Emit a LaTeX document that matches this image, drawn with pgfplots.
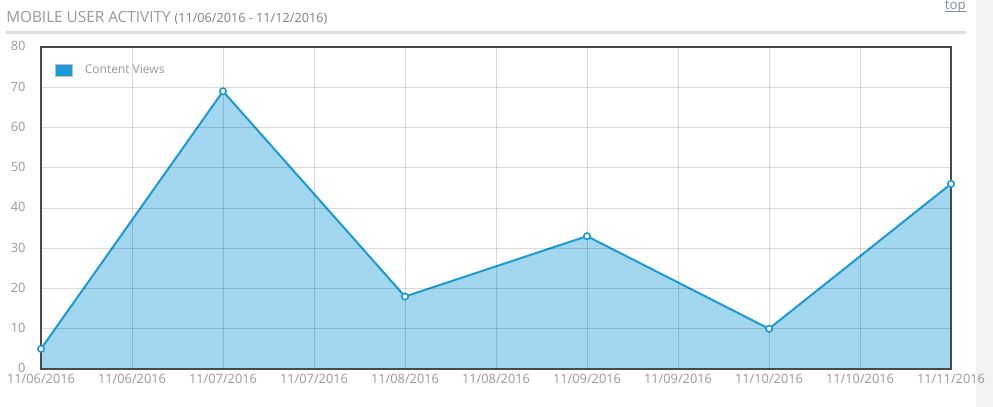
\documentclass[border=0pt]{standalone}
\usepackage{fontspec}
\setmainfont{Open Sans}
\usepackage{pgfplots}
\pgfplotsset{compat=1.18}
\definecolor{linec}{HTML}{1A9AD6}
\definecolor{areac}{HTML}{A3D7EF}
\definecolor{txtc}{HTML}{999999}
\definecolor{frame}{HTML}{4A4A4A}
\definecolor{strip}{HTML}{F3F3F3}
\definecolor{rule}{HTML}{E0E0E0}
\definecolor{linkc}{HTML}{828CA5}

\begin{document}
\begin{tikzpicture}
% canvas: 993x407 px, 1px = 0.75pt
\useasboundingbox (0,0) rectangle (744.75pt,305.25pt);
\fill[white] (0,0) rectangle (744.75pt,305.25pt);
\fill[strip] (732pt,0) rectangle (744.75pt,305.25pt);

% header
\node[anchor=base west, inner sep=0, text=txtc, font=\fontsize{11.5pt}{14pt}\selectfont]
  at (4.5pt,288.5pt) {MOBILE USER ACTIVITY {\fontsize{9.5pt}{10pt}\selectfont\color{gray} (11/06/2016 - 11/12/2016)}};
\fill[rule] (4.5pt,279.75pt) rectangle (724.5pt,281.75pt);
\node[anchor=base east, inner sep=0, text=linkc, font=\fontsize{10pt}{12pt}\selectfont]
  (top) at (724.5pt,298pt) {top};
\draw[linkc, line width=0.6pt] ([yshift=-1.6pt]top.base west) -- ([yshift=-1.6pt]top.base east);

\begin{axis}[
    at={(30.75pt,28.5pt)}, anchor=south west,
    scale only axis,
    width=682.5pt, height=241.5pt,
    xmin=0, xmax=10, ymin=0, ymax=80,
    xtick={0,...,10},
    xticklabels={11/06/2016,11/06/2016,11/07/2016,11/07/2016,11/08/2016,11/08/2016,11/09/2016,11/09/2016,11/10/2016,11/10/2016,11/11/2016},
    ytick={0,10,...,80},
    tick style={draw=none},
    grid=major,
    grid style={black, opacity=0.15, line width=0.6pt},
    axis line style={frame, line width=2pt},
    axis on top,
    ticklabel style={text=txtc, font=\fontsize{9.6pt}{11pt}\selectfont, inner sep=0.5pt},
    /pgf/number format/assume math mode=true,
    yticklabel style={xshift=-11pt, yshift=0.5pt},
    xticklabel style={yshift=-3.5pt},
    legend style={at={(0.011,0.962)}, anchor=north west, draw=none, fill=none,
        font=\fontsize{9pt}{11pt}\selectfont, text=txtc},
    legend cell align=left,
]
\addplot[fill=areac, draw=none,
    legend image code/.code={
        \draw[fill=linec, draw=black!25, line width=0.7pt] (0pt,-4.3pt) rectangle (12.5pt,4.5pt);}
    ] coordinates {
    (0,5) (2,69) (4,18) (6,33) (8,10) (10,46)
} \closedcycle;
\addlegendentry{\hspace{7pt}Content Views}
\addplot[forget plot, linec, line width=1.5pt, mark=*, mark size=2.4pt,
    mark options={fill=white, draw=linec, line width=1.2pt}] coordinates {
    (0,5) (2,69) (4,18) (6,33) (8,10) (10,46)
};
\end{axis}
\end{tikzpicture}
\end{document}
